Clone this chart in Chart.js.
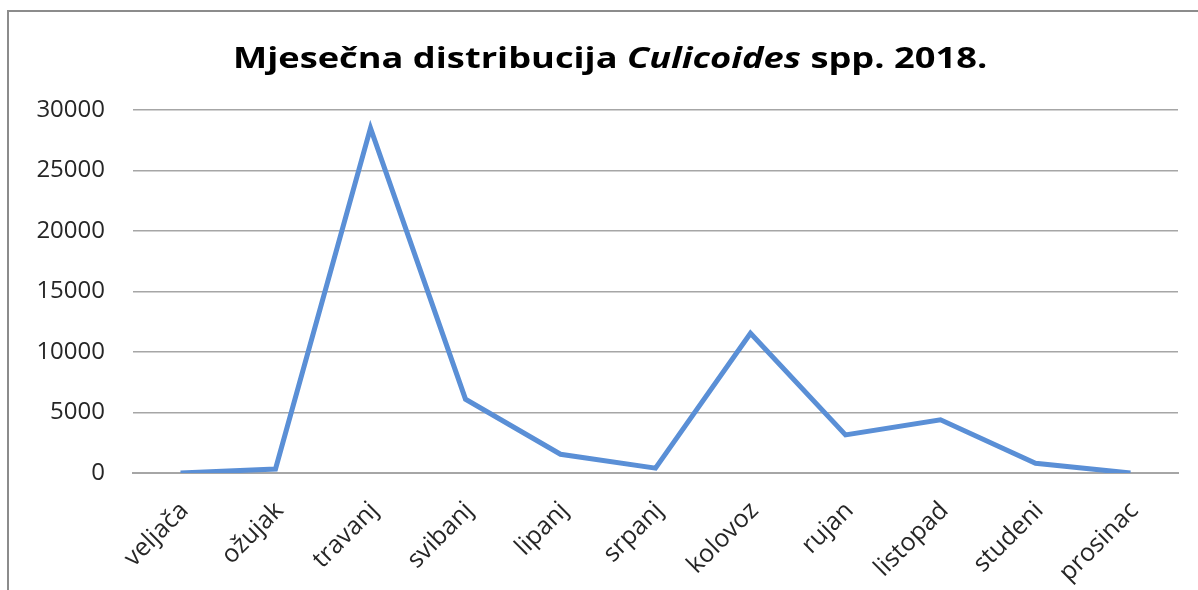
<!DOCTYPE html>
<html>
<head>
<meta charset="utf-8">
<script src="https://cdn.jsdelivr.net/npm/chart.js@4"></script>
<style>
  html, body { margin: 0; padding: 0; background: #fff; }
  #wrap { position: relative; width: 1198px; height: 590px; overflow: hidden; }
  #frame { position: absolute; left: 7px; top: 10px; width: 1300px; height: 700px;
           border-left: 2px solid #8c8c8c; border-top: 2px solid #8c8c8c; }
  #title { position: absolute; left: 233px; top: 37px; white-space: nowrap;
           font-family: "Open Sans", sans-serif; font-weight: bold; font-size: 29px; color: #000;
           transform: scaleX(1.25); transform-origin: left top; }
  canvas { position: absolute; left: 0; top: 0; }
</style>
</head>
<body>
<div id="wrap">
  <div id="frame"></div>
  <canvas id="chart" width="1198" height="590"></canvas>
  <div id="title">Mjesečna distribucija <i>Culicoides</i> spp. 2018.</div>
</div>
<script>
// mjeseci i broj jedinki
const months = ["veljača", "ožujak", "travanj", "svibanj", "lipanj", "srpanj",
  "kolovoz", "rujan", "listopad", "studeni", "prosinac"];
const counts = [0, 330, 28500, 6100, 1550, 400, 11550, 3150, 4400, 800, 0];
const yTicks = [0, 5000, 10000, 15000, 20000, 25000, 30000];

const font = { family: "Open Sans", size: 24 };

new Chart(document.getElementById("chart"), {
  type: "line",
  data: {
    labels: months,
    datasets: [{
      data: counts,
      borderColor: "#5a8fd6",
      borderWidth: 5,
      pointRadius: 0,
      tension: 0,
      fill: false,
    }],
  },
  options: {
    responsive: false,
    animation: false,
    layout: { padding: { top: 110, right: 20, left: 0, bottom: 0 } },
    plugins: { legend: { display: false }, tooltip: { enabled: false } },
    scales: {
      x: {
        offset: true,
        grid: { display: false },
        border: { display: true, color: "#a6a6a6", width: 2 },
        ticks: { font: { family: "Open Sans", size: 25 }, color: "#262626", minRotation: 45, maxRotation: 45,
                 padding: 15, labelOffset: 4 },
        afterFit: (s) => { s.height = 117; },
      },
      y: {
        min: 0,
        max: 30000,
        afterBuildTicks: (s) => { s.ticks = yTicks.map((v) => ({ value: v })); },
        grid: { color: "#a6a6a6", lineWidth: 1.5, drawTicks: false },
        border: { display: false },
        ticks: { font: font, color: "#262626", padding: 28, callback: (v) => String(v) },
        afterFit: (s) => { s.width = 133; },
      },
    },
  },
});
</script>
</body>
</html>
